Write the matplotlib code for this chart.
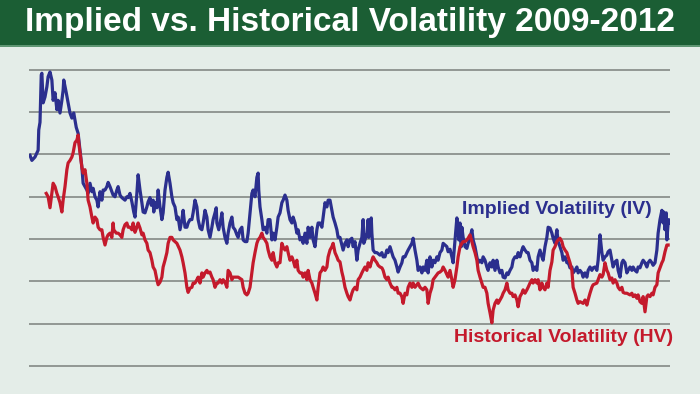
import matplotlib.pyplot as plt
from matplotlib import font_manager
from matplotlib.patches import Rectangle

# trading-day index (0 = start of 2009) and volatility in %
iv_days = [0, 3, 8, 13, 14, 16, 18, 19, 21, 24, 27, 29, 32, 35, 37, 40, 43, 45, 48, 51,
           53, 54, 58, 61, 64, 67, 70, 74, 77, 80, 83, 85, 88, 91, 93, 96, 99, 101, 104, 107,
           109, 112, 115, 117, 120, 123, 125, 128, 131, 133, 136, 139, 141, 144, 147, 152, 155, 157, 160, 163,
           166, 168, 171, 173, 176, 179, 181, 184, 187, 189, 192, 194, 197, 198, 200, 203, 205, 208, 211, 213,
           216, 219, 221, 224, 227, 229, 232, 235, 237, 240, 243, 245, 248, 251, 253, 256, 259, 261, 264, 267,
           269, 272, 275, 277, 280, 283, 285, 288, 291, 293, 296, 298, 299, 302, 306, 307, 309, 312, 315, 317,
           320, 323, 325, 328, 331, 333, 336, 339, 341, 344, 347, 349, 352, 355, 357, 360, 363, 365, 366, 368,
           371, 373, 376, 379, 381, 384, 387, 389, 392, 395, 397, 400, 403, 405, 408, 411, 413, 416, 419, 421,
           424, 427, 429, 432, 435, 437, 440, 443, 445, 448, 451, 453, 456, 459, 461, 464, 467, 469, 472, 475,
           477, 480, 483, 485, 488, 491, 493, 496, 499, 501, 504, 507, 509, 512, 515, 517, 520, 523, 525, 528,
           531, 533, 534, 536, 539, 541, 542, 546, 547, 549, 552, 555, 560, 563, 565, 568, 571, 573, 576, 579,
           581, 584, 587, 589, 592, 595, 597, 600, 603, 605, 608, 611, 613, 616, 619, 621, 624, 627, 629, 632,
           635, 637, 640, 643, 645, 648, 651, 653, 656, 659, 661, 664, 667, 669, 672, 675, 677, 680, 683, 685,
           686, 688, 690, 691, 693, 696, 699, 701, 704, 707, 709, 712, 715, 717, 720, 723, 725, 728, 731, 733,
           736, 739, 741, 744, 747, 749, 752, 755, 757, 760, 763, 765, 768, 771, 773, 776, 779, 781, 784, 787,
           789, 792, 795, 797, 800, 803, 805, 808, 811, 813, 816, 819, 821, 824, 827, 829, 832, 835, 837, 840,
           843, 845, 848, 851, 853, 856, 859, 861, 864, 867, 869, 872, 875, 877, 880, 883, 885, 888, 891, 893,
           896, 899, 901, 904, 907, 909, 912, 915, 917, 920, 923, 925, 928, 931, 933, 936, 939, 941, 944, 947,
           949, 952, 955, 957, 960, 963, 965, 968, 971, 973, 976, 979, 981, 984, 987, 989, 992, 995, 997, 1000,
           1003, 1005, 1008, 1011, 1013, 1014, 1016, 1018, 1019, 1021, 1022, 1024]
iv = [34.9, 34.3, 34.7, 35.5, 37.9, 38.8, 44.4, 44.6, 41.1, 41.8, 43.0, 44.2, 44.75, 43.8, 41.4, 42.3, 40.3, 41.4, 39.9, 41.4,
      42.6, 43.8, 42.3, 41.1, 39.9, 39.3, 39.9, 38.2, 37.5, 35.5, 33.5, 31.6, 31.2, 30.8, 30.4, 31.6, 30.6, 31.0, 30.0, 29.6,
      28.8, 30.6, 29.6, 30.8, 30.8, 31.2, 31.7, 31.2, 30.6, 30.2, 30.0, 30.8, 31.2, 30.2, 29.9, 29.6, 30.0, 29.9, 30.4, 29.4,
      28.2, 27.6, 30.4, 32.6, 30.8, 29.3, 28.2, 28.1, 28.8, 29.4, 29.9, 29.0, 29.6, 28.2, 29.3, 28.7, 30.8, 28.8, 27.3, 28.1,
      30.8, 32.3, 32.9, 31.6, 30.0, 29.3, 28.8, 27.3, 27.6, 26.1, 27.3, 28.4, 26.4, 26.4, 26.9, 27.3, 27.3, 28.1, 29.6, 28.8,
      27.3, 26.3, 26.1, 26.9, 28.4, 27.6, 26.1, 25.2, 26.4, 27.3, 28.1, 28.7, 26.9, 26.1, 27.6, 28.1, 26.4, 25.2, 24.5, 25.7,
      26.9, 27.6, 26.4, 26.1, 25.5, 25.2, 26.1, 26.4, 24.9, 24.7, 24.7, 25.7, 28.1, 30.4, 30.8, 30.0, 32.3, 32.8, 30.8, 28.8,
      27.3, 26.1, 26.4, 25.7, 27.3, 27.3, 24.9, 25.7, 24.9, 26.4, 27.6, 28.1, 29.3, 29.6, 30.2, 29.6, 28.4, 27.3, 26.9, 27.6,
      26.9, 25.7, 26.1, 24.9, 25.2, 24.5, 25.7, 24.5, 26.4, 25.2, 26.4, 24.9, 24.1, 26.1, 26.9, 26.9, 26.4, 27.6, 29.3, 28.8,
      29.6, 29.6, 28.4, 27.6, 26.9, 26.1, 25.2, 25.2, 24.3, 23.7, 24.5, 24.9, 24.1, 24.9, 25.1, 24.1, 24.7, 22.5, 23.7, 24.5,
      25.2, 27.3, 24.5, 24.9, 25.7, 27.3, 25.2, 27.5, 25.7, 23.7, 23.4, 23.4, 23.1, 23.4, 22.9, 22.9, 23.7, 23.4, 24.1, 23.4,
      22.9, 22.5, 21.7, 21.1, 21.7, 22.2, 22.9, 22.9, 23.4, 23.7, 24.1, 24.5, 25.1, 23.7, 22.5, 21.3, 21.7, 21.0, 21.7, 21.3,
      22.5, 21.0, 22.9, 21.7, 22.5, 22.2, 22.9, 22.5, 23.4, 23.7, 24.5, 24.3, 24.1, 23.5, 23.8, 22.9, 22.2, 24.9, 27.5, 26.1,
      24.9, 26.9, 24.1, 26.4, 25.2, 24.1, 23.9, 24.5, 25.1, 26.1, 24.9, 24.1, 22.9, 22.2, 22.5, 22.2, 22.9, 22.5, 21.7, 21.3,
      22.2, 21.7, 22.5, 21.3, 22.5, 21.7, 21.0, 21.3, 20.5, 20.4, 21.0, 20.8, 21.3, 21.7, 22.5, 22.9, 22.8, 23.4, 22.9, 23.7,
      24.1, 23.7, 23.4, 23.4, 22.5, 22.2, 21.3, 21.7, 21.3, 22.9, 23.7, 22.9, 22.5, 24.1, 25.2, 26.4, 26.3, 25.7, 25.1, 24.5,
      26.1, 24.7, 24.1, 23.4, 22.5, 22.9, 22.2, 22.3, 21.6, 21.7, 21.0, 21.3, 21.7, 21.0, 21.3, 21.0, 20.5, 21.0, 20.5, 21.3,
      21.7, 21.3, 21.6, 21.7, 21.3, 22.5, 25.5, 23.4, 22.5, 22.9, 23.1, 23.5, 23.7, 22.5, 21.7, 22.3, 22.5, 21.3, 20.5, 22.2,
      22.5, 22.2, 21.0, 21.3, 21.7, 21.3, 21.7, 21.3, 21.1, 21.7, 21.6, 22.2, 22.5, 22.2, 21.7, 22.2, 22.5, 22.2, 21.9, 22.2,
      23.7, 25.7, 27.3, 28.4, 26.9, 28.2, 26.1, 28.1, 24.9, 26.9, 27.3, 26.9]

hv_days = [26, 29, 32, 35, 37, 40, 43, 45, 48, 51, 53, 56, 59, 61, 64, 67, 69, 72, 75, 77,
           78, 80, 83, 85, 88, 91, 93, 96, 99, 101, 104, 107, 109, 112, 115, 117, 120, 123, 125, 128,
           131, 133, 134, 138, 141, 144, 147, 149, 152, 155, 157, 160, 163, 165, 168, 171, 173, 176, 179, 181,
           184, 187, 189, 192, 195, 197, 200, 203, 205, 208, 211, 213, 216, 219, 221, 224, 227, 229, 235, 240,
           243, 245, 248, 251, 253, 256, 259, 261, 264, 267, 269, 272, 275, 277, 280, 283, 285, 288, 291, 293,
           296, 299, 301, 304, 307, 309, 312, 315, 317, 320, 323, 325, 328, 333, 339, 341, 344, 347, 349, 352,
           355, 357, 360, 363, 365, 368, 371, 373, 376, 379, 381, 384, 387, 389, 392, 395, 397, 400, 403, 405,
           408, 411, 413, 416, 419, 421, 424, 427, 429, 432, 435, 437, 440, 443, 445, 448, 451, 453, 456, 459,
           461, 464, 467, 469, 472, 475, 477, 480, 483, 485, 488, 491, 493, 496, 499, 501, 504, 507, 509, 512,
           515, 517, 520, 523, 525, 528, 531, 533, 536, 539, 541, 544, 547, 549, 552, 555, 557, 560, 563, 565,
           568, 571, 573, 576, 579, 581, 584, 587, 589, 592, 595, 597, 600, 603, 605, 608, 611, 613, 616, 621,
           624, 629, 632, 635, 637, 640, 643, 645, 648, 653, 656, 659, 661, 664, 667, 669, 672, 675, 677, 680,
           683, 685, 688, 691, 693, 696, 699, 701, 704, 707, 709, 712, 715, 717, 720, 723, 725, 728, 731, 733,
           736, 739, 741, 744, 747, 749, 752, 755, 757, 760, 763, 765, 768, 771, 773, 776, 779, 781, 784, 787,
           789, 792, 795, 797, 800, 803, 805, 808, 811, 813, 816, 819, 821, 824, 827, 829, 832, 835, 837, 840,
           843, 845, 848, 851, 853, 856, 859, 861, 864, 867, 869, 872, 875, 877, 880, 885, 888, 891, 893, 896,
           899, 901, 907, 909, 912, 915, 917, 920, 923, 925, 928, 931, 933, 936, 939, 941, 944, 947, 949, 952,
           955, 960, 963, 965, 968, 971, 973, 976, 979, 981, 984, 987, 989, 992, 995, 997, 1000, 1003, 1005, 1008,
           1011, 1013, 1016, 1019, 1021]
hv = [30.4, 30.0, 28.7, 30.4, 31.6, 31.2, 30.4, 30.0, 29.3, 28.2, 29.6, 31.2, 33.2, 34.0, 34.3, 34.7, 35.2, 36.4, 36.7, 37.3,
      36.4, 35.2, 33.5, 32.8, 33.2, 31.6, 29.6, 28.8, 27.6, 26.9, 27.6, 27.3, 26.4, 26.1, 26.1, 25.2, 24.3, 25.2, 25.5, 25.7,
      25.2, 26.9, 26.1, 25.7, 25.7, 25.5, 25.2, 26.1, 26.7, 26.9, 26.4, 26.4, 26.1, 26.9, 25.8, 26.4, 26.9, 26.3, 25.5, 25.7,
      24.9, 24.5, 23.7, 23.4, 22.5, 21.7, 21.3, 20.2, 19.6, 19.9, 20.5, 21.7, 22.5, 23.4, 24.5, 25.2, 25.2, 24.9, 24.5, 23.7,
      22.9, 22.2, 21.0, 19.3, 18.7, 19.2, 19.3, 19.8, 19.8, 20.2, 20.5, 19.8, 21.0, 20.5, 21.0, 21.3, 21.0, 21.1, 20.5, 20.2,
      19.3, 19.8, 19.8, 20.2, 19.8, 20.2, 19.9, 19.3, 21.3, 21.0, 20.2, 20.5, 20.5, 20.5, 20.2, 19.3, 18.6, 18.4, 18.6, 19.3,
      21.0, 22.2, 23.4, 24.5, 24.9, 25.2, 25.7, 25.2, 24.9, 24.5, 23.7, 22.9, 22.5, 23.4, 22.2, 21.7, 22.2, 22.2, 24.5, 24.1,
      23.7, 24.1, 23.4, 22.5, 22.9, 22.5, 21.7, 22.5, 21.3, 21.0, 21.0, 20.5, 21.0, 20.2, 21.3, 20.2, 19.8, 19.3, 18.6, 17.8,
      19.3, 21.0, 21.3, 21.7, 21.3, 21.7, 22.9, 23.7, 24.1, 24.5, 23.4, 22.9, 22.5, 22.3, 21.1, 20.5, 19.3, 18.6, 18.2, 17.8,
      18.6, 19.0, 19.3, 19.0, 20.2, 20.5, 21.0, 21.3, 21.7, 21.3, 22.2, 21.7, 22.5, 22.9, 22.5, 22.2, 21.9, 21.7, 21.6, 21.3,
      20.5, 20.2, 20.5, 19.8, 19.3, 19.3, 19.0, 19.3, 18.6, 18.6, 18.2, 17.4, 18.6, 18.4, 19.3, 19.8, 19.3, 19.8, 19.3, 19.8,
      19.3, 19.0, 19.3, 19.0, 17.4, 18.6, 19.3, 20.2, 20.5, 21.0, 21.1, 21.3, 21.7, 21.3, 20.8, 20.5, 21.3, 20.2, 19.3, 20.2,
      21.7, 22.9, 24.1, 24.5, 24.7, 24.7, 24.9, 25.1, 25.5, 24.7, 24.1, 23.4, 22.5, 21.3, 20.5, 19.8, 19.3, 19.3, 18.6, 17.4,
      16.3, 15.1, 16.6, 17.4, 17.8, 17.4, 17.8, 18.2, 18.6, 19.0, 19.8, 19.0, 18.6, 18.6, 18.2, 18.4, 17.8, 17.0, 18.2, 18.6,
      19.0, 18.6, 19.0, 19.3, 19.8, 20.2, 19.8, 20.2, 19.8, 20.2, 19.0, 19.8, 19.3, 19.0, 19.8, 19.3, 21.3, 22.3, 23.7, 24.1,
      24.7, 24.9, 25.1, 24.7, 24.1, 23.7, 23.4, 22.9, 22.2, 21.3, 19.3, 18.6, 17.8, 17.4, 17.6, 17.4, 17.8, 17.2, 17.8, 18.6,
      19.3, 19.6, 19.8, 20.2, 20.8, 20.5, 20.8, 22.2, 21.3, 21.0, 20.2, 20.4, 19.8, 20.2, 19.8, 19.3, 19.0, 19.3, 18.7, 18.6,
      18.6, 18.4, 18.6, 18.2, 18.4, 18.0, 18.4, 17.6, 17.4, 18.2, 16.4, 18.2, 18.4, 18.2, 18.6, 18.4, 19.3, 19.6, 21.0, 21.6,
      22.2, 22.5, 23.5, 24.3, 24.3]

grid_levels = [10, 15, 20, 25, 30, 35, 40, 45]

title = 'Implied vs. Historical Volatility 2009-2012'
iv_label = 'Implied Volatility (IV)'
hv_label = 'Historical Volatility (HV)'

names = {f.name for f in font_manager.fontManager.ttflist}
narrow = 'Liberation Sans Narrow' if 'Liberation Sans Narrow' in names else 'Liberation Sans'

bg = '#e4ede8'
blue = '#2b2f8e'
red = '#c41a2c'

fig = plt.figure(figsize=(7, 3.94), dpi=100, facecolor=bg)

# green title band
fig.add_artist(Rectangle((0, 1 - 45 / 394), 1, 45 / 394, transform=fig.transFigure,
                         facecolor='#1b5e34', edgecolor='none'))
fig.add_artist(Rectangle((0, 1 - 47 / 394), 1, 2 / 394, transform=fig.transFigure,
                         facecolor='#5f9673', edgecolor='none'))
fig.text(0.5, 1 - 23 / 394, title, color='white', fontsize=24, fontweight='bold',
         family=narrow, ha='center', va='center')

ax = fig.add_axes([29 / 700, 1 - 385 / 394, 641 / 700, 335 / 394])
ax.set_xlim(-1.6, 1024)
ax.set_ylim(7.75, 47.35)
ax.axis('off')
for g in grid_levels:
    ax.axhline(g, color='#8b908d', lw=1.3, zorder=1)

ax.plot(iv_days, iv, color=blue, lw=2.3, zorder=3)
ax.plot(hv_days, hv, color=red, lw=2.3, zorder=4)

fig.text(462 / 700, 1 - 209 / 394, iv_label, color=blue, fontsize=14, fontweight='bold',
         family='Liberation Sans', ha='left', va='center')
fig.text(454 / 700, 1 - 338 / 394, hv_label, color=red, fontsize=14, fontweight='bold',
         family=narrow, ha='left', va='center')

fig.savefig('out.png', dpi=100, facecolor=bg)
